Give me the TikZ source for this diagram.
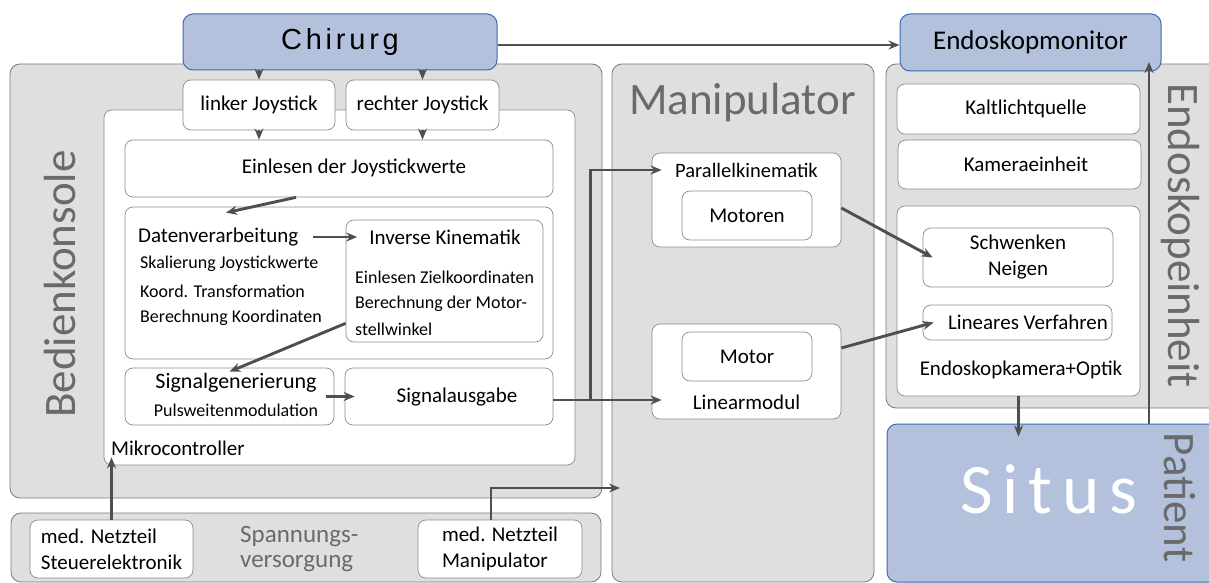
\documentclass[tikz,border=0pt]{standalone}
\usepackage{fontspec}
\setmainfont{Carlito}
\newfontfamily\chirfont[LetterSpace=13]{Liberation Sans}
\newfontfamily\situsfont[LetterSpace=14]{Carlito}
\usetikzlibrary{arrows.meta}

\definecolor{panelfill}{HTML}{DFDFDF}
\definecolor{panelline}{HTML}{7A7A7A}
\definecolor{boxline}{HTML}{8C8C8C}
\definecolor{bluefill}{HTML}{B3C1DD}
\definecolor{blueline}{HTML}{3A6AB0}
\definecolor{arrowgray}{HTML}{4F4F4F}
\definecolor{labelgray}{HTML}{6A6A6A}

\begin{document}
\begin{tikzpicture}
      [%%%%%%%%%%%%%%%%%%%%%%%%%%%%%%
      x=1pt,y=-1pt,
      panel/.style={draw=panelline,fill=panelfill,rounded corners=10pt,line width=0.8pt,inner sep=0pt},
      box/.style={draw=boxline,fill=white,rounded corners=8pt,line width=0.7pt,inner sep=0pt,font=\fontsize{21}{26}\selectfont},
      bluebox/.style={draw=blueline,fill=bluefill,rounded corners=10pt,line width=1pt,inner sep=0pt},
      txt/.style={inner sep=0pt,font=\fontsize{21}{26}\selectfont},
      small/.style={inner sep=0pt,font=\fontsize{18}{26}\selectfont},
      biglabel/.style={inner sep=0pt,text=labelgray,font=\fontsize{45}{50}\selectfont},
      arr/.style={draw=arrowgray,line width=2.9pt,-{Stealth[length=11pt,width=9pt]}},
      ]%%%%%%%%%%%%%%%%%%%%%%%%%%%%%%
      \useasboundingbox (0,0) rectangle (1209,583);

      % Bereiche
      \node[panel,minimum width=592pt,minimum height=434pt] (bed) at (306,281) {};
      \node[panel,minimum width=262pt,minimum height=518pt] (man) at (743,323) {};
      \node[panel,minimum width=334pt,minimum height=344pt] (endo) at (1053,236) {};
      \node[panel,minimum width=590pt,minimum height=69pt] (span) at (306,547.5) {};
      \node[bluebox,minimum width=333pt,minimum height=158pt] (situs) at (1053.5,503) {};

      \node[biglabel,rotate=90] (bedlabel) at (60,284) {Bedienkonsole};
      \node[biglabel] (manlabel) at (742.5,103) {Manipulator};
      \node[biglabel,rotate=-90] (endolabel) at (1180,235.5) {Endoskopeinheit};
      \node[biglabel,rotate=-90] (patlabel) at (1180,497.5) {Patient};
      \node[inner sep=0pt,text=labelgray,font=\fontsize{25}{25}\selectfont,align=left,anchor=west] (spanlabel) at (240,549) {Spannungs-\\versorgung};
      \node[inner sep=0pt,anchor=base,text=white,font=\situsfont\fontsize{71}{75}\selectfont] (situstext) at (1049,513) {Situs};

      % oben
      \node[bluebox,minimum width=314pt,minimum height=56pt,font=\chirfont\fontsize{29}{30}\selectfont] (chir) at (340,42) {Chirurg};
      \node[bluebox,minimum width=261pt,minimum height=57pt,font=\fontsize{27}{30}\selectfont] (mon) at (1030.5,42.5) {Endoskopmonitor};

      % Bedienkonsole
      \node[box,minimum width=471pt,minimum height=355pt] (mikro) at (339.5,287.5) {};
      \node[txt,anchor=west] (mikrolabel) at (111,448) {Mikrocontroller};
      \node[box,minimum width=152pt,minimum height=50pt] (ljoy) at (259,105) {linker Joystick};
      \node[box,minimum width=153pt,minimum height=50pt] (rjoy) at (422.5,105) {rechter Joystick};
      \node[box,minimum width=428pt,minimum height=57pt] (einl) at (339,168.5) {};
      \node[txt] (einltext) at (354,168) {Einlesen der Joystickwerte};
      \node[box,minimum width=428pt,minimum height=152pt] (daten) at (339,283) {};
      \node[txt,anchor=west] (datentitle) at (138,237) {Datenverarbeitung};
      \node[small,anchor=west] (skal) at (140,264) {Skalierung Joystickwerte};
      \node[small,anchor=west] (koord) at (140,291) {Koord. Transformation};
      \node[small,anchor=west] (berk) at (140,318) {Berechnung Koordinaten};
      \node[box,minimum width=197pt,minimum height=122pt] (invkin) at (444.5,281) {};
      \node[txt] (invtitle) at (445,237) {Inverse Kinematik};
      \node[small,anchor=west] (ziel) at (355,277) {Einlesen Zielkoordinaten};
      \node[small,anchor=west] (motw) at (355,304) {Berechnung der Motor-};
      \node[small,anchor=west] (stell) at (355,329) {stellwinkel};
      \node[box,minimum width=209pt,minimum height=57pt] (siggen) at (229.5,396.5) {};
      \node[txt,font=\fontsize{22}{26}\selectfont] (sigtitle) at (236,383) {Signalgenerierung};
      \node[small] (pwm) at (236,410) {Pulsweitenmodulation};
      \node[box,minimum width=208pt,minimum height=57pt] (sigaus) at (449,396.5) {};
      \node[txt] (sigaustext) at (457,397) {Signalausgabe};

      % Manipulator
      \node[box,minimum width=189pt,minimum height=94pt] (para) at (746.5,200) {};
      \node[txt,font=\fontsize{20.5}{26}\selectfont] (paratext) at (746.5,170) {Parallelkinematik};
      \node[box,minimum width=130pt,minimum height=49pt] (motoren) at (747,215.5) {Motoren};
      \node[box,minimum width=189pt,minimum height=95pt] (linm) at (746.5,371.5) {};
      \node[box,minimum width=130pt,minimum height=49pt] (motor) at (747,356.5) {Motor};
      \node[txt] (linmtext) at (746.5,402) {Linearmodul};

      % Endoskopeinheit
      \node[box,minimum width=243pt,minimum height=50pt] (kalt) at (1018.5,109) {};
      \node[txt] (kalttext) at (1026,109) {Kaltlichtquelle};
      \node[box,minimum width=243pt,minimum height=49pt] (kam) at (1019.5,164.5) {};
      \node[txt] (kamtext) at (1026,164) {Kameraeinheit};
      \node[box,minimum width=243pt,minimum height=190pt] (optik) at (1018.5,301) {};
      \node[txt] (optiktext) at (1021,370) {Endoskopkamera+Optik};
      \node[box,minimum width=190pt,minimum height=59pt,align=center] (schw) at (1018,257.5) {Schwenken\\Neigen};
      \node[box,minimum width=189pt,minimum height=35pt] (linv) at (1017.5,322.5) {};
      \node[txt] (linvtext) at (1028,322) {Lineares Verfahren};

      % Spannungsversorgung
      \node[box,minimum width=163pt,minimum height=58pt,align=left] (nts) at (111.5,549) {med. Netzteil\\Steuerelektronik};
      \node[box,minimum width=164pt,minimum height=58pt,align=left] (ntm) at (500,549) {med. Netzteil\\Manipulator};

      % Verbindungen
      \coordinate (monin) at (1149,62);
      \coordinate (pwr) at (620,488);
      \draw[arr] ([yshift=-3pt]chir.east) -- ([yshift=-3pt]chir.east -| mon.west);
      \draw[arr] (chir.south -| ljoy) -- (ljoy);
      \draw[arr] (chir.south -| rjoy) -- (rjoy);
      \draw[arr] (ljoy) -- (ljoy |- einl.north);
      \draw[arr] (rjoy) -- (rjoy |- einl.north);
      \draw[arr] ([xshift=-43pt]einl.south) -- ([xshift=-113pt,yshift=-6pt]daten.north);
      \draw[arr] ([xshift=15pt]datentitle.east) -- ([xshift=-12pt]invtitle.west);
      \draw[arr] ([yshift=19pt]invkin.south west) -- ([yshift=-4pt]siggen.north);
      \draw[arr] ([xshift=-8pt]siggen.east) -- ([xshift=10pt]sigaus.west);
      \draw[arr] ([yshift=-3.5pt]sigaus.east) -- ++(37,0) coordinate (split) |- ([xshift=10pt]para.west |- paratext);
      \draw[arr] (split) -- ([xshift=10pt]linm.west |- split);
      \draw[arr] ([yshift=-8pt]para.east) -- ([xshift=10pt]schw.west);
      \draw[arr] ([yshift=23.5pt]linm.east) -- ([xshift=11pt]linv.west);
      \draw[arr] (optik) -- ([yshift=-13pt]optik.south |- situs.north);
      \draw[arr] (situs.north -| monin) -- (monin);
      \draw[arr] (nts) -- ([yshift=8pt]nts.north |- mikro.south);
      \draw[arr] ([xshift=-9pt]ntm.north) |- (pwr);
    \end{tikzpicture}
\end{document}
